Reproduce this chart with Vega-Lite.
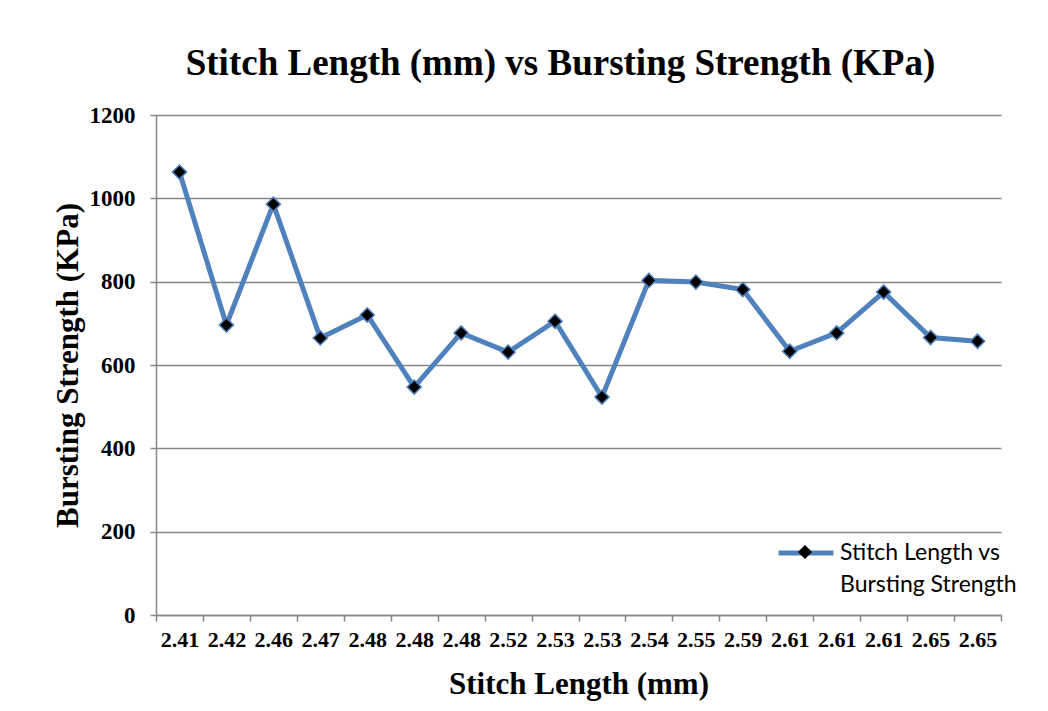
{
  "$schema": "https://vega.github.io/schema/vega-lite/v6.json",
  "width": 845,
  "height": 500,
  "autosize": {"type": "none"},
  "padding": {"left": 156, "top": 115, "right": 47, "bottom": 96},
  "background": "white",
  "title": {
    "text": "Stitch Length (mm) vs Bursting Strength (KPa)",
    "font": "Liberation Serif",
    "fontSize": 37,
    "fontWeight": "bold",
    "color": "black",
    "anchor": "middle",
    "dx": -18,
    "offset": 21
  },
  "data": {
    "values": [
      {"i": 1, "len": "2.41", "bs": 1063, "s": "Stitch Length vs Bursting Strength"},
      {"i": 2, "len": "2.42", "bs": 696, "s": "Stitch Length vs Bursting Strength"},
      {"i": 3, "len": "2.46", "bs": 986, "s": "Stitch Length vs Bursting Strength"},
      {"i": 4, "len": "2.47", "bs": 665, "s": "Stitch Length vs Bursting Strength"},
      {"i": 5, "len": "2.48", "bs": 720, "s": "Stitch Length vs Bursting Strength"},
      {"i": 6, "len": "2.48", "bs": 547, "s": "Stitch Length vs Bursting Strength"},
      {"i": 7, "len": "2.48", "bs": 677, "s": "Stitch Length vs Bursting Strength"},
      {"i": 8, "len": "2.52", "bs": 631, "s": "Stitch Length vs Bursting Strength"},
      {"i": 9, "len": "2.53", "bs": 705, "s": "Stitch Length vs Bursting Strength"},
      {"i": 10, "len": "2.53", "bs": 523, "s": "Stitch Length vs Bursting Strength"},
      {"i": 11, "len": "2.54", "bs": 803, "s": "Stitch Length vs Bursting Strength"},
      {"i": 12, "len": "2.55", "bs": 799, "s": "Stitch Length vs Bursting Strength"},
      {"i": 13, "len": "2.59", "bs": 781, "s": "Stitch Length vs Bursting Strength"},
      {"i": 14, "len": "2.61", "bs": 633, "s": "Stitch Length vs Bursting Strength"},
      {"i": 15, "len": "2.61", "bs": 677, "s": "Stitch Length vs Bursting Strength"},
      {"i": 16, "len": "2.61", "bs": 775, "s": "Stitch Length vs Bursting Strength"},
      {"i": 17, "len": "2.65", "bs": 666, "s": "Stitch Length vs Bursting Strength"},
      {"i": 18, "len": "2.65", "bs": 657, "s": "Stitch Length vs Bursting Strength"}
    ]
  },
  "encoding": {
    "x": {
      "field": "i",
      "type": "ordinal",
      "scale": {"type": "band", "paddingInner": 0, "paddingOuter": 0},
      "bandPosition": 0.5,
      "axis": {
        "title": "Stitch Length (mm)",
        "labelExpr": "['2.41','2.42','2.46','2.47','2.48','2.48','2.48','2.52','2.53','2.53','2.54','2.55','2.59','2.61','2.61','2.61','2.65','2.65'][datum.value-1]",
        "labelAngle": 0,
        "tickBand": "extent",
        "tickSize": 6,
        "tickColor": "#868686",
        "domainColor": "#868686",
        "domainWidth": 1.5,
        "tickWidth": 1.5,
        "labelFont": "Liberation Serif",
        "labelFontSize": 22,
        "labelFontWeight": "bold",
        "labelColor": "black",
        "labelPadding": 8,
        "titleFont": "Liberation Serif",
        "titleFontSize": 31,
        "titleFontWeight": "bold",
        "titleColor": "black",
        "titlePadding": 19,
        "grid": false
      }
    },
    "y": {
      "field": "bs",
      "type": "quantitative",
      "scale": {"domain": [0, 1200]},
      "axis": {
        "title": "Bursting Strength (KPa)",
        "values": [0, 200, 400, 600, 800, 1000, 1200],
        "format": "d",
        "tickSize": 6,
        "tickColor": "#868686",
        "domainColor": "#868686",
        "domainWidth": 1.5,
        "tickWidth": 1.5,
        "gridColor": "#868686",
        "gridWidth": 1.5,
        "labelFont": "Liberation Serif",
        "labelFontSize": 23,
        "labelFontWeight": "bold",
        "labelColor": "black",
        "labelPadding": 15,
        "titleFont": "Liberation Serif",
        "titleFontSize": 31,
        "titleFontWeight": "bold",
        "titleColor": "black",
        "titlePadding": 5
      }
    }
  },
  "layer": [
    {
      "mark": {"type": "line", "strokeWidth": 5},
      "encoding": {
        "stroke": {
          "field": "s",
          "type": "nominal",
          "scale": {"range": ["#4F81BD"]},
          "legend": {
            "orient": "none",
            "legendX": 620,
            "legendY": 408,
            "title": null,
            "symbolType": "stroke",
            "symbolSize": 3000,
            "symbolStrokeWidth": 5,
            "labelExpr": "['Stitch Length vs', 'Bursting Strength']",
            "labelFont": "Lato",
            "labelFontSize": 23,
            "labelColor": "black",
            "labelOffset": 4,
            "labelLimit": 300
          }
        }
      }
    },
    {
      "mark": {"type": "point", "filled": true, "fill": "black", "stroke": "#4F81BD", "strokeWidth": 1.5, "size": 200, "opacity": 1},
      "encoding": {
        "shape": {
          "field": "s",
          "type": "nominal",
          "scale": {"range": ["diamond"]},
          "legend": {
            "orient": "none",
            "legendX": 641,
            "legendY": 429,
            "title": null,
            "symbolFillColor": "black",
            "symbolStrokeColor": "#4F81BD",
            "symbolStrokeWidth": 1.5,
            "symbolSize": 200,
            "symbolOpacity": 1,
            "labelExpr": "''"
          }
        }
      }
    }
  ],
  "config": {
    "view": {"stroke": null},
    "style": {"guide-label": {"lineHeight": 32}}
  }
}
